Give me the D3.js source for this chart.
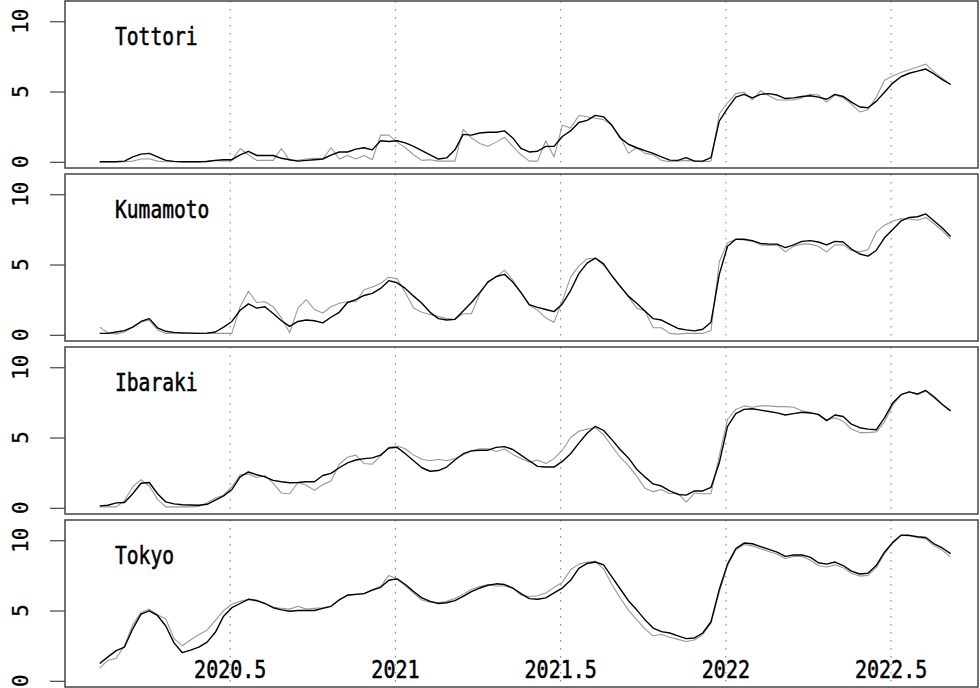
<!DOCTYPE html>
<html>
<head>
<meta charset="utf-8">
<script src="https://cdn.jsdelivr.net/npm/d3@7"></script>
<style>
  html, body { margin: 0; padding: 0; background: #fff; }
  svg { display: block; }
</style>
</head>
<body>
<div id="chart"></div>
<script>
// Time grid: regular sampling from early 2020 to mid 2022 (104 points)
const startYear = 2020.105;
const stepYear = 0.025;
const nPoints = 104;

const prefectures = ["Tottori", "Kumamoto", "Ibaraki", "Tokyo"];
const xTicks = [2020.5, 2021, 2021.5, 2022, 2022.5];
const xTickLabels = ["2020.5", "2021", "2021.5", "2022", "2022.5"];
const yTicks = [0, 5, 10];

// gray = raw series, black = smoothed series
const tottoriGray = [
  0,0,0,0,0.05,0.2,0.22,0.05,0,0,0,0,0,0.05,0.1,0.05,0.1,0.95,0.5,0.1,0.1,0.1,0.95,0.1,0.1,0.2,0.25,0.2,
  1.0,0.2,0.45,0.2,0.45,0.15,1.9,1.9,1.4,1.0,0.5,0.1,0.15,0.05,0.05,0.05,2.3,1.7,1.3,1.1,1.4,1.75,1.1,0.5,0.05,0.05,1.5,0.35,2.6,2.4,3.3,3.2,3.1,3.0,2.6,1.8,0.6,1.0,0.6,0.5,
  0.1,0,0.05,0.1,0.05,0,0.05,3.4,4.2,4.85,4.95,4.4,5.05,4.7,4.4,4.4,4.4,4.55,4.8,4.75,4.25,4.75,4.55,4.1,3.55,3.7,4.6,5.8,6.1,6.35,6.55,6.75,6.95,6.4,5.95,5.5
];
const tottoriBlack = [
  0,0,0,0.05,0.35,0.55,0.6,0.35,0.1,0.03,0,0,0,0.02,0.1,0.15,0.15,0.5,0.75,0.45,0.45,0.45,0.25,0.15,0.05,0.1,0.15,0.2,
  0.47,0.7,0.7,0.9,1.0,0.85,1.5,1.45,1.5,1.35,1.1,0.8,0.5,0.2,0.28,0.85,1.95,1.9,2.05,2.1,2.1,2.2,1.7,0.95,0.7,0.75,1.1,1.1,1.8,2.2,2.8,2.95,3.3,3.2,2.6,1.7,1.25,1.0,0.8,0.6,
  0.35,0.12,0.1,0.3,0.05,0.05,0.3,2.9,3.8,4.6,4.8,4.55,4.8,4.85,4.75,4.5,4.55,4.65,4.7,4.6,4.45,4.8,4.65,4.25,3.9,3.85,4.3,4.95,5.6,6.05,6.3,6.45,6.6,6.25,5.85,5.5
];

const kumamotoGray = [
  0.55,0.15,0.05,0.2,0.55,0.9,1.05,0.35,0.1,0.1,0.1,0.1,0.1,0.1,0.1,0.1,0.1,2.0,3.1,2.3,2.35,2.0,1.2,0.15,1.9,2.5,1.8,1.55,
  2.0,2.25,2.35,2.35,3.2,3.4,3.65,4.1,4.0,3.0,1.9,1.6,1.45,1.3,1.15,1.1,1.5,1.5,2.9,3.8,4.1,4.6,3.9,3.0,2.1,1.75,1.2,0.9,2.4,4.1,4.9,5.4,5.45,4.95,4.2,3.5,2.7,1.9,1.7,0.5,
  0.5,0.1,0.05,0.1,0.1,0.1,0.3,5.2,6.55,6.8,6.75,6.65,6.4,6.35,6.4,5.9,6.3,6.45,6.45,6.3,5.9,6.4,6.4,6.0,5.9,6.05,7.3,7.8,8.1,8.25,8.25,8.15,8.35,7.9,7.4,6.8
];
const kumamotoBlack = [
  0.1,0.1,0.2,0.3,0.55,0.95,1.15,0.5,0.25,0.17,0.14,0.12,0.1,0.12,0.2,0.55,0.95,1.75,2.2,1.9,2.0,1.52,1.0,0.6,0.95,1.05,1.0,0.85,
  1.25,1.6,2.3,2.5,2.8,2.95,3.3,3.85,3.7,3.3,2.75,2.25,1.6,1.15,1.05,1.1,1.7,2.3,3.0,3.75,4.15,4.3,3.75,3.0,2.15,1.95,1.8,1.65,2.2,3.15,4.35,5.1,5.45,5.05,4.2,3.45,2.75,2.25,1.7,1.15,
  1.05,0.75,0.45,0.35,0.28,0.4,0.9,4.3,6.3,6.8,6.8,6.7,6.5,6.45,6.45,6.2,6.4,6.65,6.7,6.6,6.4,6.65,6.6,6.1,5.75,5.6,6.0,6.9,7.5,8.1,8.35,8.4,8.6,8.1,7.6,7.0
];

const ibarakiGray = [
  0.07,0.07,0.07,0.5,1.5,2.0,1.55,0.6,0.07,0.07,0.07,0.07,0.1,0.35,0.7,0.9,1.5,2.35,2.4,2.15,2.3,1.75,1.05,1.0,1.8,1.6,1.25,1.65,
  1.9,3.1,3.6,3.75,3.15,3.1,3.7,4.3,4.4,4.2,3.75,3.45,3.35,3.45,3.35,3.5,3.75,4.05,4.2,4.2,4.0,4.2,3.8,3.5,3.25,3.4,3.15,3.5,4.1,5.0,5.45,5.6,5.7,5.2,4.4,3.6,3.0,2.25,1.4,1.15,
  1.3,1.0,1.05,0.4,1.05,1.0,1.0,3.7,6.3,7.0,7.25,7.15,7.25,7.25,7.2,7.2,7.15,6.9,6.8,6.6,6.25,6.4,6.15,5.6,5.35,5.35,5.4,6.1,7.3,8.05,8.25,8.05,8.3,7.8,7.35,6.9
];
const ibarakiBlack = [
  0.14,0.18,0.35,0.38,1.0,1.75,1.8,1.0,0.42,0.28,0.22,0.2,0.18,0.25,0.55,0.85,1.3,2.2,2.55,2.35,2.2,1.95,1.85,1.78,1.8,1.85,1.85,2.3,
  2.45,2.85,3.2,3.4,3.5,3.55,3.75,4.25,4.3,3.85,3.35,2.85,2.6,2.65,2.9,3.4,3.85,4.05,4.1,4.1,4.3,4.35,4.15,3.75,3.35,2.95,2.9,2.9,3.3,3.85,4.6,5.3,5.8,5.5,4.85,4.15,3.55,2.75,2.2,1.7,
  1.55,1.2,0.95,0.9,1.2,1.2,1.45,3.2,5.8,6.7,7.0,7.05,6.95,6.85,6.75,6.6,6.7,6.8,6.75,6.65,6.2,6.6,6.5,5.95,5.7,5.6,5.55,6.4,7.45,8.05,8.25,8.1,8.35,7.9,7.35,6.9
];

const tokyoGray = [
  0.9,1.45,1.6,2.5,4.0,4.85,5.1,4.7,4.4,3.0,2.5,2.9,3.3,3.6,4.3,5.0,5.45,5.65,5.8,5.75,5.5,5.25,5.15,5.1,5.3,5.1,5.15,5.2,
  5.3,5.8,6.05,6.15,6.2,6.5,6.7,7.5,7.25,6.75,6.25,5.75,5.6,5.55,5.65,5.85,6.15,6.5,6.7,6.85,6.75,6.75,6.6,6.1,6.0,6.05,6.25,6.65,7.0,7.9,8.3,8.45,8.5,7.95,6.85,5.9,5.05,4.35,3.7,3.2,
  3.3,3.1,2.95,2.8,2.9,3.3,4.1,6.3,8.2,9.3,9.7,9.6,9.4,9.2,9.0,8.7,8.85,8.85,8.6,8.2,8.1,8.25,8.05,7.65,7.45,7.5,8.05,9.05,9.8,10.35,10.3,10.2,10.1,9.6,9.3,8.8
];
const tokyoBlack = [
  1.23,1.7,2.15,2.4,3.7,4.75,4.98,4.65,3.9,2.7,2.0,2.18,2.4,2.75,3.45,4.6,5.2,5.5,5.8,5.7,5.5,5.2,5.05,4.95,5.0,5.0,5.0,5.15,
  5.3,5.75,6.1,6.15,6.2,6.45,6.65,7.15,7.25,6.85,6.35,5.9,5.65,5.5,5.55,5.7,6.0,6.35,6.6,6.8,6.9,6.85,6.6,6.2,5.85,5.8,5.9,6.25,6.6,7.15,8.0,8.35,8.45,8.25,7.4,6.55,5.7,5.05,4.35,3.75,
  3.5,3.4,3.2,3.0,3.05,3.4,4.2,6.5,8.3,9.4,9.8,9.75,9.55,9.35,9.15,8.85,8.95,8.95,8.8,8.4,8.3,8.45,8.2,7.8,7.6,7.65,8.2,9.15,9.85,10.35,10.35,10.25,10.2,9.75,9.45,9.05
];

const grayByPanel = [tottoriGray, kumamotoGray, ibarakiGray, tokyoGray];
const blackByPanel = [tottoriBlack, kumamotoBlack, ibarakiBlack, tokyoBlack];

function drawChart() {
  const width = 980;
  const height = 688;
  const left = 65;
  const right = 978;
  const firstTop = 1;
  const panelStep = 173;
  const panelHeight = 167;
  // monospaced face, stretched a little vertically to match the tall glyphs
  const font = "'DejaVu Sans Mono', 'Liberation Mono', monospace";
  const stretch = 1.22;

  const times = d3.range(nPoints).map(i => startYear + i * stepYear);

  const svg = d3.select("#chart")
    .append("svg")
    .attr("width", width)
    .attr("height", height)
    .attr("viewBox", [0, 0, width, height]);

  const x = d3.scaleLinear()
    .domain([2020, 2022.763])
    .range([left, right]);

  prefectures.forEach((name, k) => {
    const top = firstTop + k * panelStep;
    const y = d3.scaleLinear()
      .domain([-0.44, 11.44])
      .range([top + panelHeight, top]);

    const g = svg.append("g");

    // dotted verticals at half years
    g.selectAll("line.grid")
      .data(xTicks)
      .join("line")
      .attr("class", "grid")
      .attr("x1", d => x(d)).attr("x2", d => x(d))
      .attr("y1", top).attr("y2", top + panelHeight)
      .attr("stroke", "#8c8c8c")
      .attr("stroke-width", 1.2)
      .attr("stroke-dasharray", "1.5,6.5");

    const line = d3.line()
      .x((d, i) => x(times[i]))
      .y(d => y(d));

    g.append("path")
      .datum(grayByPanel[k])
      .attr("fill", "none")
      .attr("stroke", "#999")
      .attr("stroke-width", 1.1)
      .attr("stroke-linejoin", "round")
      .attr("d", line);

    g.append("path")
      .datum(blackByPanel[k])
      .attr("fill", "none")
      .attr("stroke", "#000")
      .attr("stroke-width", 1.4)
      .attr("stroke-linejoin", "round")
      .attr("d", line);

    // panel frame
    g.append("rect")
      .attr("x", left)
      .attr("y", top)
      .attr("width", right - left)
      .attr("height", panelHeight)
      .attr("fill", "none")
      .attr("stroke", "#444")
      .attr("stroke-width", 1.5);

    // y axis
    const yAxis = d3.axisLeft(y)
      .tickValues(yTicks)
      .tickSize(15)
      .tickFormat("");
    const gy = g.append("g")
      .attr("transform", `translate(${left},0)`)
      .call(yAxis);
    gy.select(".domain").remove();
    gy.selectAll(".tick line").attr("stroke", "#444").attr("stroke-width", 1.2);

    g.selectAll("text.ylab")
      .data(yTicks)
      .join("text")
      .attr("class", "ylab")
      .attr("transform", d => `translate(27.5,${y(d)}) rotate(-90)`)
      .attr("text-anchor", "middle")
      .attr("font-family", font)
      .attr("font-size", 20.8)
      .attr("stroke", "#000")
      .attr("stroke-width", 0.3)
      .text(d => d);

    // prefecture label
    g.append("text")
      .attr("transform", `translate(115,${top + 44}) scale(1,${stretch})`)
      .attr("font-family", font)
      .attr("font-size", 19.6)
      .attr("stroke", "#000")
      .attr("stroke-width", 0.45)
      .text(name);

    // x tick labels sit inside the bottom panel
    if (k === prefectures.length - 1) {
      g.selectAll("text.xlab")
        .data(xTicks)
        .join("text")
        .attr("class", "xlab")
        .attr("transform", d => `translate(${x(d)},${top + panelHeight - 9}) scale(1,${stretch})`)
        .attr("text-anchor", "middle")
        .attr("font-family", font)
        .attr("font-size", 20)
        .attr("stroke", "#000")
        .attr("stroke-width", 0.45)
        .text((d, i) => xTickLabels[i]);
    }
  });
}

drawChart();
</script>
</body>
</html>
